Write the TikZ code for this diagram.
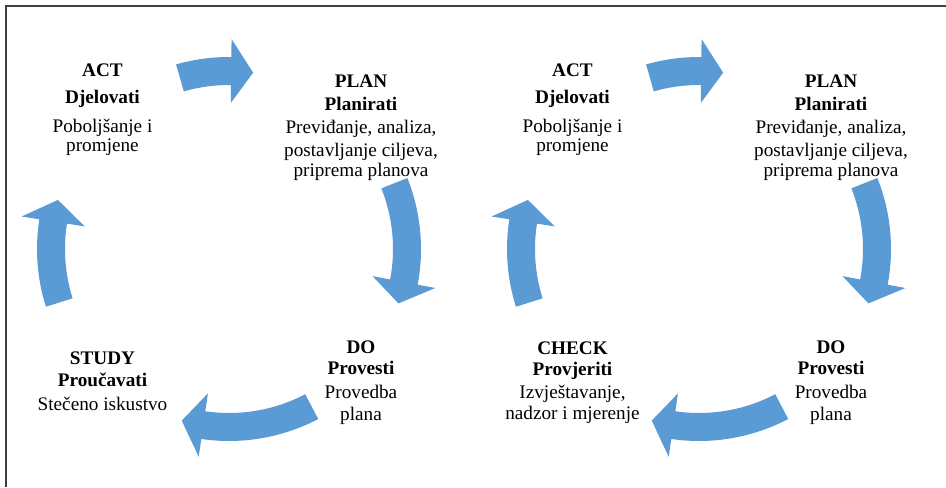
\documentclass[tikz,border=0pt]{standalone}
\usepackage{fontspec}
\setmainfont{Liberation Serif}
\definecolor{cyclblue}{RGB}{91,155,213}
\definecolor{framegray}{RGB}{64,64,64}
\tikzset{
  stage/.style={align=center, anchor=base, inner sep=0pt,
    font=\fontsize{14.4}{16.5}\selectfont},
  cycarrow/.style={fill=cyclblue, draw=none},
  framerule/.style={draw=framegray, line width=1pt},
}
% curved block arrow on a circle of radius 178 around #1,
% running clockwise from angle #2 (tail) to angle #3 (tip)
\newcommand{\cyclearrow}[3]{%
  \begin{scope}[shift={(#1)}]
    \pgfmathsetmacro{\cyhead}{#3+7.1}
    \fill[cycarrow] (#2:192) arc[start angle=#2, end angle=\cyhead, radius=192]
      -- (\cyhead:210) -- (#3:178) -- (\cyhead:146) -- (\cyhead:164)
      arc[start angle=\cyhead, end angle=#2, radius=164] -- cycle;
  \end{scope}}
\begin{document}
\begin{tikzpicture}[x=0.75pt, y=0.75pt]
  \useasboundingbox (0,0) rectangle (946,487);
  % frame
  \draw[framerule] (6,0) -- (6,481) -- (946,481);

  % cycle centres
  \coordinate (lc) at (229,238);
  \coordinate (rc) at (699,238);

  % left cycle: ACT - PLAN - DO - STUDY
  \cyclearrow{lc}{106}{82.2}
  \cyclearrow{lc}{21.7}{-17.8}
  \cyclearrow{lc}{-62.3}{-105.4}
  \cyclearrow{lc}{197.5}{164}

  % stage texts are placed by the baseline of their last line
  \node[stage] (actL) at (102.5,335.3)
    {\textbf{ACT}\\[4pt]\textbf{Djelovati}\\[5.25pt]Poboljšanje i\\[-2pt]promjene};
  \node[stage] (planL) at (361,310.3)
    {\textbf{PLAN}\\[0.2pt]\textbf{Planirati}\\[1pt]Previđanje, analiza,\\[0.5pt]postavljanje ciljeva,\\[-1pt]priprema planova};
  \node[stage] (doL) at (361,67)
    {\textbf{DO}\\[-0.2pt]\textbf{Provesti}\\[1pt]Provedba\\[-0.2pt]plana};
  \node[stage] (studyL) at (102.5,77)
    {\textbf{STUDY}\\[-0.2pt]\textbf{Proučavati}\\[1pt]Stečeno iskustvo};

  % right cycle: ACT - PLAN - DO - CHECK
  \cyclearrow{rc}{106}{82.2}
  \cyclearrow{rc}{21.7}{-17.8}
  \cyclearrow{rc}{-62.3}{-105.4}
  \cyclearrow{rc}{197.5}{164}

  \node[stage] (actR) at (572.5,335.3)
    {\textbf{ACT}\\[4pt]\textbf{Djelovati}\\[5.25pt]Poboljšanje i\\[-2pt]promjene};
  \node[stage] (planR) at (831,310.3)
    {\textbf{PLAN}\\[0.2pt]\textbf{Planirati}\\[1pt]Previđanje, analiza,\\[0.5pt]postavljanje ciljeva,\\[-1pt]priprema planova};
  \node[stage] (doR) at (831,67)
    {\textbf{DO}\\[-0.2pt]\textbf{Provesti}\\[1pt]Provedba\\[-0.2pt]plana};
  \node[stage] (checkR) at (572.5,68)
    {\textbf{CHECK}\\[-0.8pt]\textbf{Provjeriti}\\[0.8pt]Izvještavanje,\\[-0.8pt]nadzor i mjerenje};
\end{tikzpicture}
\end{document}
